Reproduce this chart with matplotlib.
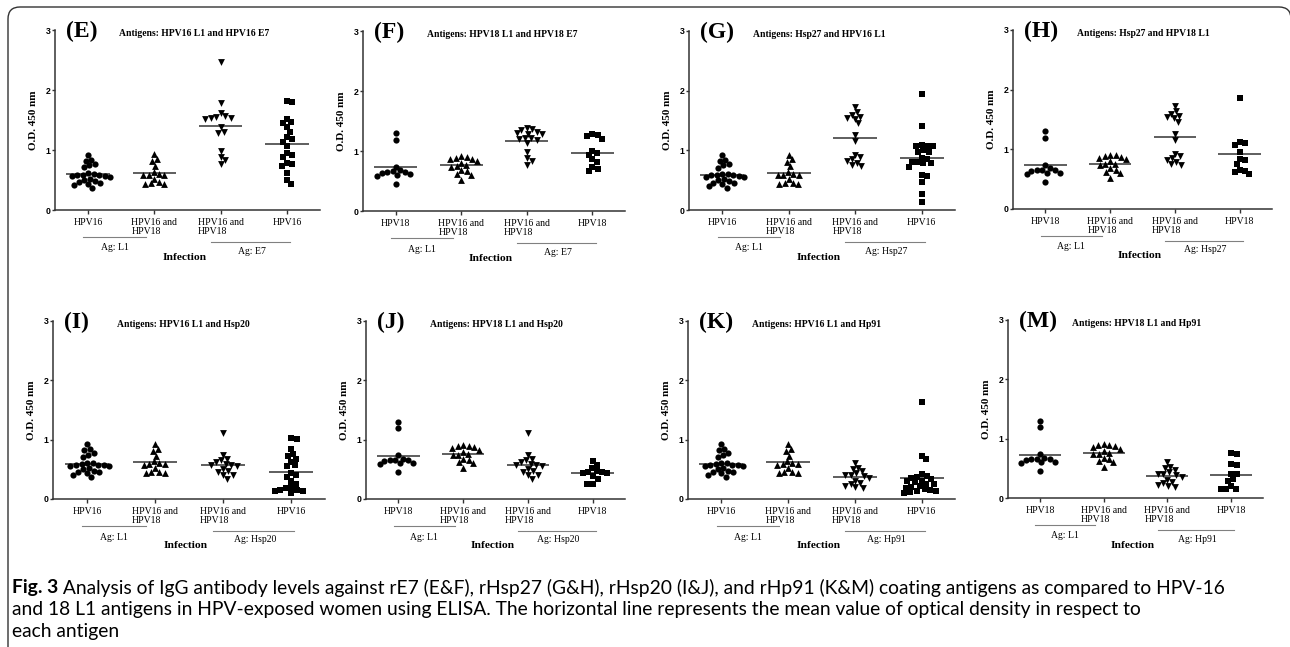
import numpy as np
import matplotlib
matplotlib.use('Agg')
import matplotlib.pyplot as plt
from matplotlib import transforms
from matplotlib.patches import FancyBboxPatch

# ---------------------------------------------------------------------------
# O.D. 450 nm values (one list per dot column)
# ---------------------------------------------------------------------------

# L1 antigen columns (same in every panel of a given HPV type)
hpv16_l1_in_hpv16 = [0.92, 0.84, 0.82, 0.77, 0.75, 0.71, 0.61, 0.60, 0.59, 0.58, 0.58,
                     0.57, 0.56, 0.55, 0.52, 0.50, 0.48, 0.46, 0.45, 0.43, 0.41, 0.37]
hpv16_l1_in_hpv16_18 = [0.93, 0.85, 0.81, 0.73, 0.64, 0.60, 0.59, 0.59, 0.58, 0.52,
                        0.46, 0.45, 0.44, 0.43]
hpv18_l1_in_hpv18 = [1.30, 1.19, 0.74, 0.68, 0.66, 0.65, 0.65, 0.64, 0.61, 0.60, 0.59, 0.45]
hpv18_l1_in_hpv16_18 = [0.91, 0.90, 0.89, 0.87, 0.86, 0.83, 0.80, 0.76, 0.75, 0.74,
                        0.68, 0.66, 0.62, 0.60, 0.52]

# E7
e7_in_hpv16_18_e = [2.46, 1.78, 1.61, 1.56, 1.55, 1.54, 1.53, 1.52, 1.38, 1.30, 1.28,
                    0.98, 0.88, 0.83, 0.76]
e7_in_hpv16 = [1.82, 1.80, 1.52, 1.46, 1.45, 1.38, 1.30, 1.21, 1.19, 1.14, 1.07, 0.95,
               0.92, 0.88, 0.78, 0.77, 0.74, 0.62, 0.50, 0.44]
e7_in_hpv16_18_f = [1.38, 1.37, 1.35, 1.31, 1.30, 1.29, 1.28, 1.22, 1.21, 1.20, 1.19,
                    1.14, 0.98, 0.88, 0.84, 0.77]
e7_in_hpv18 = [1.29, 1.26, 1.25, 1.20, 1.00, 0.96, 0.93, 0.86, 0.82, 0.73, 0.70, 0.66]

# Hsp27
hsp27_in_hpv16_18 = [1.73, 1.64, 1.60, 1.56, 1.54, 1.52, 1.45, 1.26, 1.16, 0.93, 0.89,
                     0.85, 0.82, 0.79, 0.75, 0.74]
hsp27_in_hpv16 = [1.94, 1.40, 1.09, 1.08, 1.08, 1.07, 1.00, 0.98, 0.97, 0.87, 0.86,
                  0.80, 0.80, 0.79, 0.78, 0.72, 0.58, 0.57, 0.47, 0.27, 0.13]
hsp27_in_hpv18 = [1.86, 1.13, 1.10, 1.08, 0.95, 0.83, 0.82, 0.75, 0.66, 0.64, 0.62, 0.58]

# Hsp20
hsp20_in_hpv16_18 = [1.11, 0.74, 0.68, 0.65, 0.62, 0.59, 0.58, 0.57, 0.56, 0.50, 0.47,
                     0.45, 0.41, 0.40, 0.33]
hsp20_in_hpv16 = [1.02, 1.01, 0.85, 0.76, 0.72, 0.68, 0.63, 0.57, 0.56, 0.44, 0.40,
                  0.37, 0.30, 0.25, 0.20, 0.18, 0.16, 0.15, 0.14, 0.13, 0.10]
hsp20_in_hpv18 = [0.64, 0.58, 0.53, 0.47, 0.46, 0.45, 0.44, 0.43, 0.38, 0.34, 0.25, 0.25]

# Hp91
hp91_in_hpv16_18 = [0.61, 0.53, 0.50, 0.47, 0.43, 0.41, 0.40, 0.38, 0.36, 0.31, 0.27,
                    0.25, 0.22, 0.20, 0.19]
hp91_in_hpv16 = [1.63, 0.72, 0.67, 0.42, 0.38, 0.37, 0.35, 0.33, 0.31, 0.30, 0.28, 0.26,
                 0.25, 0.22, 0.21, 0.19, 0.17, 0.16, 0.14, 0.13, 0.12, 0.10]
hp91_in_hpv18 = [0.76, 0.74, 0.57, 0.56, 0.41, 0.40, 0.32, 0.29, 0.20, 0.16, 0.15, 0.15]

labels_16 = ['HPV16', 'HPV16 and\nHPV18', 'HPV16 and\nHPV18', 'HPV16']
labels_18 = ['HPV18', 'HPV16 and\nHPV18', 'HPV16 and\nHPV18', 'HPV18']

panel_letters = ['(E)', '(F)', '(G)', '(H)', '(I)', '(J)', '(K)', '(M)']
panel_titles = ['Antigens: HPV16 L1 and HPV16 E7', 'Antigens: HPV18 L1 and HPV18 E7',
                'Antigens: Hsp27 and HPV16 L1', 'Antigens: Hsp27 and HPV18 L1',
                'Antigens: HPV16 L1 and Hsp20', 'Antigens: HPV18 L1 and Hsp20',
                'Antigens: HPV16 L1 and Hp91', 'Antigens: HPV18 L1 and Hp91']
panel_antigens = ['Ag: E7', 'Ag: E7', 'Ag: Hsp27', 'Ag: Hsp27',
                  'Ag: Hsp20', 'Ag: Hsp20', 'Ag: Hp91', 'Ag: Hp91']
panel_data = [
    [hpv16_l1_in_hpv16, hpv16_l1_in_hpv16_18, e7_in_hpv16_18_e, e7_in_hpv16],
    [hpv18_l1_in_hpv18, hpv18_l1_in_hpv16_18, e7_in_hpv16_18_f, e7_in_hpv18],
    [hpv16_l1_in_hpv16, hpv16_l1_in_hpv16_18, hsp27_in_hpv16_18, hsp27_in_hpv16],
    [hpv18_l1_in_hpv18, hpv18_l1_in_hpv16_18, hsp27_in_hpv16_18, hsp27_in_hpv18],
    [hpv16_l1_in_hpv16, hpv16_l1_in_hpv16_18, hsp20_in_hpv16_18, hsp20_in_hpv16],
    [hpv18_l1_in_hpv18, hpv18_l1_in_hpv16_18, hsp20_in_hpv16_18, hsp20_in_hpv18],
    [hpv16_l1_in_hpv16, hpv16_l1_in_hpv16_18, hp91_in_hpv16_18, hp91_in_hpv16],
    [hpv18_l1_in_hpv18, hpv18_l1_in_hpv16_18, hp91_in_hpv16_18, hp91_in_hpv18],
]
panel_xlabels = [labels_16, labels_18] * 4

caption_bold = 'Fig. 3'
caption_lines = [
    ' Analysis of IgG antibody levels against rE7 (E&F), rHsp27 (G&H), rHsp20 (I&J), '
    'and rHp91 (K&M) coating antigens as compared to HPV-16',
    'and 18 L1 antigens in HPV-exposed women using ELISA. The horizontal line represents '
    'the mean value of optical density in respect to',
    'each antigen',
]

# ---------------------------------------------------------------------------
# Layout (pixels of the 1290x647 canvas)
# ---------------------------------------------------------------------------
W, H = 1290, 647
SERIF = 'Liberation Serif'
SANS = 'Liberation Sans'
AX_COLOR = '#333333'
MARKERS = ['o', '^', 'v', 's']
MARKER_S = [20, 24, 24, 19]

# (x_left, x_right, y_top, y_bottom)
boxes = [(55, 320, 30, 210), (363, 625, 31, 211), (689, 955, 31, 210), (1013, 1272, 30, 209),
         (53, 325, 321, 499), (366, 625, 321, 499), (688, 955, 321, 499), (1008, 1263, 320, 498)]


def swarm(vals, px_x, px_y, d=5.6):
    """Beeswarm offsets (data units) so that markers of diameter d px do not overlap."""
    y = np.asarray(vals, dtype=float) * px_y
    order = np.argsort(-y, kind='stable')
    placed_x, placed_y = [], []
    offs = np.zeros(len(y))
    for i in order:
        cands = [0.0]
        for xj, yj in zip(placed_x, placed_y):
            dy = abs(y[i] - yj)
            if dy < d:
                dx = np.sqrt(d * d - dy * dy)
                cands += [xj + dx, xj - dx]
        cands.sort(key=lambda c: (round(abs(c), 3), -c))
        for c in cands:
            ok = all((c - xj) ** 2 + (y[i] - yj) ** 2 >= d * d - 1e-6
                     for xj, yj in zip(placed_x, placed_y))
            if ok:
                break
        placed_x.append(c)
        placed_y.append(y[i])
        offs[i] = c / px_x
    return offs


fig = plt.figure(figsize=(W / 100, H / 100), dpi=100)

for idx, (x0, x1, yt, yb) in enumerate(boxes):
    wpx, hpx = x1 - x0, yb - yt
    ax = fig.add_axes([x0 / W, 1 - yb / H, wpx / W, hpx / H])

    for g, vals in enumerate(panel_data[idx]):
        xc = g + 1
        ax.scatter(xc + swarm(vals, wpx / 4, hpx / 3), vals, marker=MARKERS[g],
                   s=MARKER_S[g], color='black', linewidths=0, zorder=3, clip_on=False)
        ax.hlines(np.mean(vals), xc - 0.33, xc + 0.33, color=AX_COLOR, lw=1.1, zorder=2)

    ax.set_xlim(0.5, 4.5)
    ax.set_ylim(0, 3)
    ax.set_yticks([0, 1, 2, 3])
    ax.set_xticks([1, 2, 3, 4])
    ax.set_xticklabels(panel_xlabels[idx], family=SERIF, fontsize=7,
                       multialignment='left', linespacing=1.0)
    for lab in ax.get_yticklabels():
        lab.set_fontfamily(SANS)
        lab.set_fontweight('bold')
        lab.set_fontsize(6.3)
    ax.tick_params(axis='x', length=3, width=1, color=AX_COLOR, pad=3)
    ax.tick_params(axis='y', length=2.5, width=1, color=AX_COLOR, pad=0.8)
    for side in ('top', 'right'):
        ax.spines[side].set_visible(False)
    for side in ('left', 'bottom'):
        ax.spines[side].set_color(AX_COLOR)
        ax.spines[side].set_linewidth(1.1)
    ax.patch.set_visible(False)

    ax.set_ylabel('O.D. 450 nm', family=SERIF, weight='bold', fontsize=8.0)
    ax.yaxis.set_label_coords(-17 / wpx, 0.5)

    ax.text(11 / wpx, 0.99, panel_letters[idx], transform=ax.transAxes, family=SERIF,
            weight='bold', fontsize=17, ha='left', va='center')
    ax.text(64 / wpx, 0.983, panel_titles[idx], transform=ax.transAxes, family=SERIF,
            weight='bold', fontsize=6.9, ha='left', va='center')

    # grouping brackets under the x labels
    trans = transforms.blended_transform_factory(ax.transData, ax.transAxes)
    ax.plot([0.93, 1.87], [-27 / hpx] * 2, transform=trans, clip_on=False,
            color='#808080', lw=0.8)
    ax.plot([2.85, 4.05], [-32 / hpx] * 2, transform=trans, clip_on=False,
            color='#808080', lw=0.8)
    ax.text(1.4, -38 / hpx, 'Ag: L1', transform=trans, family=SERIF, fontsize=7,
            ha='center', va='center')
    ax.text(3.47, -41 / hpx, panel_antigens[idx], transform=trans, family=SERIF,
            fontsize=7, ha='center', va='center')
    ax.text(2.45, -47 / hpx, 'Infection', transform=trans, family=SERIF, weight='bold',
            fontsize=8.2, ha='center', va='center')

# rounded frame around the figure
frame = FancyBboxPatch((8 / 100, -0.5), (1291 - 8) / 100, (H - 7) / 100 + 0.5,
                       boxstyle='round,pad=0,rounding_size=0.12',
                       transform=fig.dpi_scale_trans, fill=False,
                       edgecolor='#333333', lw=1.0)
fig.patches.append(frame)

# caption
cap_font = ['Lato', 'DejaVu Sans']
cap_size = 13.9
line_y = [588, 610, 632]
t0 = fig.text(12 / W, 1 - line_y[0] / H, caption_bold, family=cap_font, weight='bold',
              fontsize=cap_size, va='center', ha='left')
fig.canvas.draw()
bb = t0.get_window_extent()
fig.text(bb.x1 / W, 1 - line_y[0] / H, caption_lines[0], family=cap_font,
         fontsize=cap_size, va='center', ha='left')
for ly, txt in zip(line_y[1:], caption_lines[1:]):
    fig.text(12 / W, 1 - ly / H, txt, family=cap_font, fontsize=cap_size,
             va='center', ha='left')

fig.savefig('out.png', dpi=100)
